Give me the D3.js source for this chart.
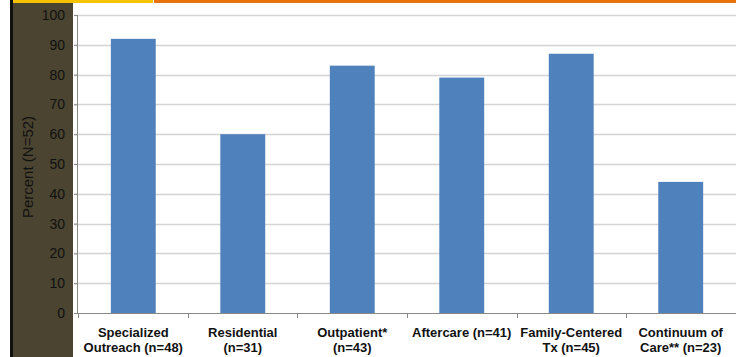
<!DOCTYPE html>
<html>
<head>
<script src="https://d3js.org/d3.v7.min.js"></script>
<style>
  body { margin: 0; background: #fff; }
  svg { display: block; font-family: "Liberation Sans", Arial, sans-serif; }
  .grid line { stroke: #d4d4d4; stroke-width: 1.5; }
  .bar { fill: #4f81bd; }
</style>
</head>
<body>
<script>
// chart data
var categories = ["Specialized|Outreach (n=48)", "Residential|(n=31)", "Outpatient*|(n=43)",
                  "Aftercare (n=41)", "Family-Centered|Tx (n=45)", "Continuum of|Care** (n=23)"];
var values = [92, 60, 83, 79, 87, 44];
var yTicks = [0, 10, 20, 30, 40, 50, 60, 70, 80, 90, 100];

var W = 736, H = 357;
var margin = {top: 15, right: 0, bottom: 44, left: 78},
    width = W - margin.left - margin.right,
    height = H - margin.top - margin.bottom;

var svg = d3.select("body").append("svg")
    .attr("width", W)
    .attr("height", H);

// slide decorations: dark side panel and top stripes
svg.append("rect").attr("x", 10).attr("y", 0).attr("width", 3).attr("height", H).attr("fill", "#111");
svg.append("rect").attr("x", 13).attr("y", 0).attr("width", 60).attr("height", H).attr("fill", "#4b4430");
svg.append("rect").attr("x", 13).attr("y", 0).attr("width", 140).attr("height", 3).attr("fill", "#f7c200");
svg.append("rect").attr("x", 154).attr("y", 0).attr("width", W - 154).attr("height", 3).attr("fill", "#e8720c");

var g = svg.append("g")
    .attr("transform", "translate(" + margin.left + "," + margin.top + ")");

var x = d3.scaleBand().domain(categories).range([0, width]).paddingInner(0.59).paddingOuter(0.3);
var y = d3.scaleLinear().domain([0, 100]).range([height, 0]);

// gridlines
g.append("g").attr("class", "grid")
  .selectAll("line").data(yTicks.slice(1)).enter().append("line")
    .attr("x1", -4).attr("x2", width)
    .attr("y1", function(d) { return Math.round(y(d)) + 0.5; })
    .attr("y2", function(d) { return Math.round(y(d)) + 0.5; });

// bars
g.selectAll(".bar").data(values).enter().append("rect")
    .attr("class", "bar")
    .attr("x", function(d, i) { return x(categories[i]); })
    .attr("width", x.bandwidth())
    .attr("y", function(d) { return y(d); })
    .attr("height", function(d) { return height - y(d); });

// y axis
var yAxis = g.append("g")
    .call(d3.axisLeft(y).tickValues(yTicks).tickSize(4).tickPadding(9));
yAxis.select(".domain").attr("stroke", "#888").attr("d", "M-0.5,0V" + height);
yAxis.selectAll(".tick line").attr("stroke", "#888");
yAxis.selectAll("text").style("font-size", "14px").attr("fill", "#111");

// x axis baseline + separators
var band = width / categories.length;
var xa = g.append("g").attr("transform", "translate(0," + height + ")");
xa.append("line").attr("x1", 0).attr("x2", width).attr("y1", 0.5).attr("y2", 0.5).attr("stroke", "#888");
xa.selectAll(".sep").data(d3.range(categories.length)).enter().append("line")
    .attr("x1", function(i) { return Math.round(i * band) + 0.5; })
    .attr("x2", function(i) { return Math.round(i * band) + 0.5; })
    .attr("y1", 0).attr("y2", 5).attr("stroke", "#888");

var lab = xa.selectAll(".lab").data(categories).enter().append("text")
    .attr("text-anchor", "middle")
    .attr("x", function(d) { return x(d) + x.bandwidth() / 2; })
    .attr("y", 24)
    .style("font-size", "13px").style("font-weight", "bold").attr("fill", "#111");
lab.selectAll("tspan").data(function(d) { return d.split("|"); }).enter().append("tspan")
    .attr("x", function() { return d3.select(this.parentNode).attr("x"); })
    .attr("dy", function(d, i) { return i ? 15 : 0; })
    .text(function(d) { return d; });

// y title
svg.append("text")
    .attr("transform", "translate(33," + 167 + ") rotate(-90)")
    .attr("text-anchor", "middle")
    .style("font-size", "15px").attr("fill", "#111")
    .text("Percent (N=52)");
</script>
</body>
</html>
